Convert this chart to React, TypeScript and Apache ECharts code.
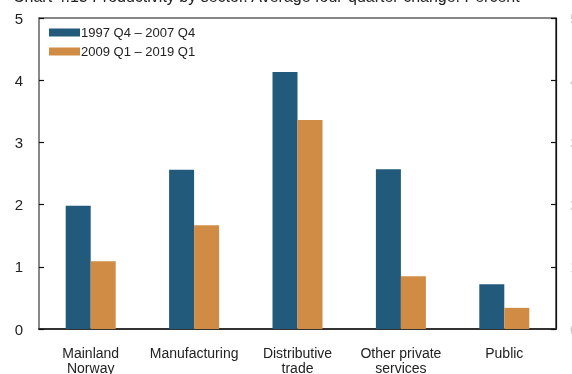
import React, { useEffect, useRef } from "react";
import * as echarts from "echarts";

const categories = ["Mainland\nNorway", "Manufacturing", "Distributive\ntrade", "Other private\nservices", "Public"];
const series1Name = "1997 Q4 – 2007 Q4";
const series2Name = "2009 Q1 – 2019 Q1";
const series1 = [1.98, 2.56, 4.13, 2.57, 0.72];
const series2 = [1.09, 1.67, 3.36, 0.85, 0.34];
const titleText = "Chart 4.13 Productivity by sector. Average four-quarter change. Percent";

const FONT = "Liberation Sans, Arial, Helvetica, sans-serif";

export default function App() {
  const ref = useRef<HTMLDivElement>(null);
  useEffect(() => {
    if (!ref.current) return;
    const chart = echarts.init(ref.current, undefined, { renderer: "svg" });
    chart.setOption({
      animation: false,
      textStyle: { fontFamily: FONT },
      graphic: [
        {
          type: "text",
          left: 13,
          top: -12,
          style: { text: titleText, font: `16px ${FONT}`, fill: "#222" },
        },
      ],
      grid: {
        left: 39,
        right: 16,
        top: 18,
        bottom: 45,
        outerBoundsMode: "none",
        containLabel: false,
        show: true,
        borderColor: "#111",
        borderWidth: 1.2,
      },
      legend: {
        orient: "vertical",
        left: 49,
        top: 26,
        padding: 0,
        itemWidth: 31,
        itemHeight: 8,
        itemGap: 6,
        icon: "rect",
        textStyle: { fontSize: 13, color: "#222", fontFamily: FONT, padding: [0, 0, 0, -4] },
        data: [series1Name, series2Name],
      },
      xAxis: {
        type: "category",
        data: categories,
        axisTick: { show: false },
        axisLine: { lineStyle: { color: "#333", width: 2 } },
        axisLabel: { fontSize: 14, color: "#222", margin: 16, lineHeight: 15, fontFamily: FONT, interval: 0 },
      },
      yAxis: [
        {
          type: "value",
          min: 0,
          max: 5,
          interval: 1,
          position: "left",
          splitLine: { show: false },
          axisLine: { show: true, lineStyle: { color: "#888", width: 2 } },
          axisTick: { show: true, inside: true, length: 5, lineStyle: { color: "#111", width: 1.2 } },
          axisLabel: { fontSize: 15, color: "#222", margin: 16, fontFamily: FONT },
        },
        {
          type: "value",
          min: 0,
          max: 5,
          interval: 1,
          position: "right",
          splitLine: { show: false },
          axisLine: { show: true, lineStyle: { color: "#111", width: 1.2 } },
          axisTick: { show: true, inside: true, length: 5, lineStyle: { color: "#111", width: 1.2 } },
          axisLabel: { fontSize: 15, color: "#ccc", margin: 14, fontFamily: FONT },
        },
      ],
      series: [
        {
          name: series1Name,
          type: "bar",
          data: series1,
          barWidth: 25,
          barGap: "0%",
          itemStyle: { color: "#215a7b" },
        },
        {
          name: series2Name,
          type: "bar",
          data: series2,
          barWidth: 25,
          itemStyle: { color: "#d08c45" },
        },
      ],
    });
    return () => chart.dispose();
  }, []);
  return (
    <div style={{ width: 572, height: 374, position: "fixed", left: 0, top: 0, overflow: "hidden" }}>
      <div ref={ref} style={{ width: 572, height: 374 }} />
    </div>
  );
}
